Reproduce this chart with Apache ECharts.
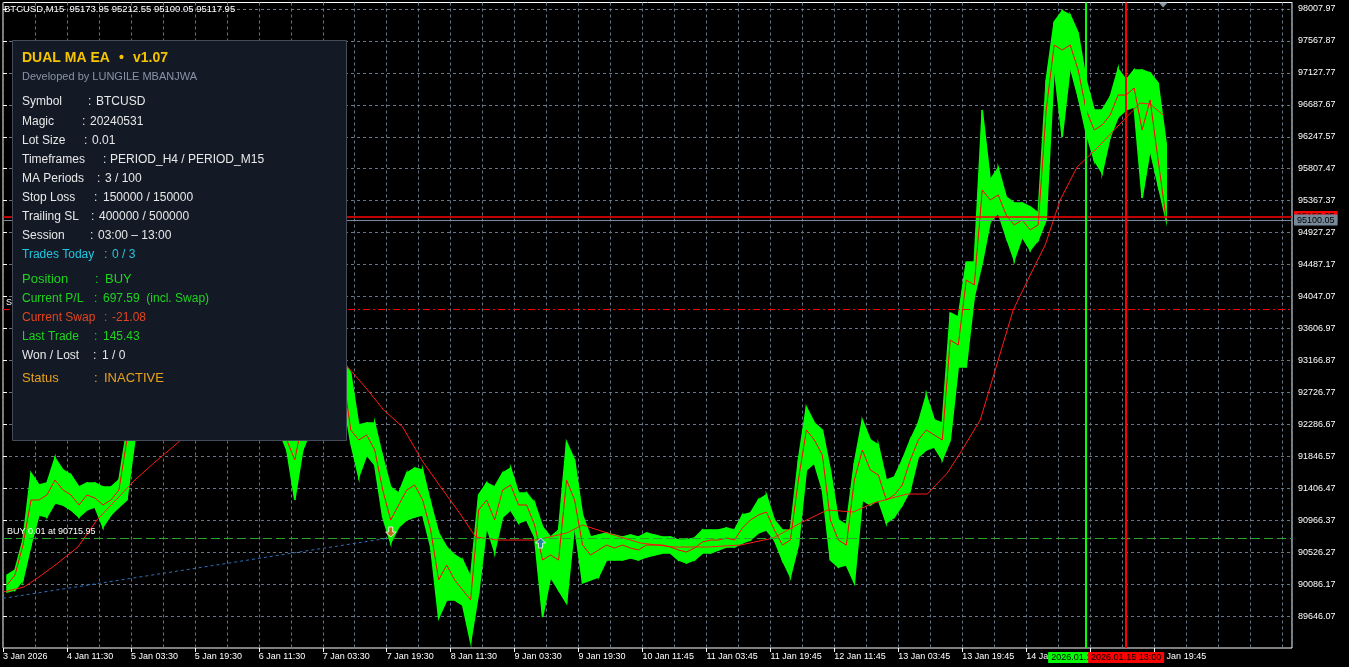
<!DOCTYPE html>
<html><head><meta charset="utf-8">
<script src="https://cdn.jsdelivr.net/npm/echarts@6/dist/echarts.min.js"></script>
<style>html,body{margin:0;padding:0;background:#000;}#c{width:1349px;height:667px;}</style>
</head><body><div id="c"></div>
<script>
// ---- data ----
const timeLabels = ['3 Jan 2026','4 Jan 11:30','5 Jan 03:30','5 Jan 19:30','6 Jan 11:30','7 Jan 03:30','7 Jan 19:30','8 Jan 11:30','9 Jan 03:30','9 Jan 19:30','10 Jan 11:45','11 Jan 03:45','11 Jan 19:45','12 Jan 11:45','13 Jan 03:45','13 Jan 19:45','14 Jan 11:45','15 Jan 03:45','15 Jan 19:45'];
const priceTickLabels = ['89646.07','90086.17','90526.27','90966.37','91406.47','91846.57','92286.67','92726.77','93166.87','93606.97','94047.07','94487.17','94927.27','95367.37','95807.47','96247.57','96687.67','97127.77','97567.87','98007.97'];
// 2-hour groups of M15 bars: highs / lows / closes
const highs = [90211,90280,90693,91616,91451,91479,91823,91658,91589,91424,
91479,91479,91424,91424,91520,92209,92622,92691,92829,92898,
93035,92966,93173,93242,93311,93380,93311,93448,93380,93311,
93242,93173,93104,92966,92829,92622,92209,92484,92760,92898,
93035,93104,93173,92994,92278,92305,92305,91837,91424,91341,
91616,91685,91658,91203,90790,90597,90487,90418,90184,91314,
91479,91424,91616,91685,91341,91341,91203,90873,90735,90831,
92043,91796,91038,90735,90762,90790,90762,90735,90762,90735,
90790,90762,90735,90735,90693,90693,90721,90831,90831,90831,
90859,90831,91038,91065,91245,91314,90969,90831,90831,91796,
92526,92305,92209,91658,90969,90900,91754,92347,92071,92002,
91520,91561,91796,92071,92305,92691,92347,92305,93820,93765,
94523,94523,96617,95652,95818,95418,95336,95336,95281,95198,
97030,97829,97980,97925,97677,97030,96617,96617,96796,97182,
97030,97168,97168,97126,96989,96162];
const lows = [89977,90005,90143,90624,91038,91010,91203,91176,91107,91010,
91107,91148,90873,91038,91148,91245,92071,92209,92278,92415,
92484,92484,92622,92691,92760,92829,92829,92898,92829,92760,
92691,92622,92553,92415,92209,91933,91245,91933,92209,92347,
92484,92622,92691,92030,91561,91864,91727,91010,90652,90873,
90969,91010,91038,90597,89619,89867,89867,89798,89288,89963,
90873,90528,91010,91107,90928,90969,90735,89633,90184,90005,
89826,90900,90101,90143,90184,90418,90418,90418,90446,90418,
90459,90487,90514,90514,90418,90377,90418,90514,90514,90556,
90597,90597,90652,90693,90790,90831,90693,90418,90184,90624,
91658,91754,91382,90418,90322,90349,90101,91245,91176,91245,
90928,91010,91176,91382,91837,91933,91975,91796,92071,93077,
93077,94041,94509,95074,95198,94867,94551,94867,94688,94826,
95102,97209,96245,97209,96796,96300,95928,95749,96245,96520,
96617,96658,95404,96066,95584,95102];
const closes = [90074,90211,90624,91245,91245,91314,91520,91382,91314,91176,
91314,91272,91176,91245,91382,92071,92415,92484,92622,92691,
92829,92760,92966,93035,93104,93173,93104,93242,93173,93035,
92966,92898,92760,92691,92484,92071,91796,92347,92622,92691,
92829,92966,93008,92209,92071,92140,91933,91382,90969,91176,
91382,91451,91245,90831,90143,90349,90143,90005,89867,91107,
91245,90969,91382,91451,91176,91176,90900,90418,90487,90418,
91520,91245,90624,90487,90556,90624,90583,90624,90583,90556,
90624,90624,90624,90597,90556,90528,90583,90666,90693,90693,
90721,90693,90859,90969,91038,91079,90831,90624,90693,91520,
92209,92071,91864,90969,90693,90624,91520,91933,91658,91589,
91245,91314,91451,91796,92071,92209,92140,92071,93448,93380,
94275,94206,95515,95377,95446,95170,95033,95102,94964,95033,
96617,97512,97443,97512,97168,96617,96341,96410,96548,96823,
96823,96920,96341,96755,95928,95118];
// MA(100) read at bar index positions
const maBars = [0,21,36,55,75,94,113,132,151,170,178,208,248,298,328,346,365,381,400,419,438,457,473,495,534,564,580,605,638,671,705,738,771,798,825,851,871,905,925,945,958,978,993,1011,1028,1043,1058,1075,1095,1115,1138,1148,1161];
const maValues = [89977,90046,90184,90377,90597,90969,91245,91520,91754,91975,92071,92347,92760,93104,93145,93063,92760,92484,92250,91796,91424,91065,90735,90693,90693,90790,90900,90790,90652,90597,90597,90624,90721,90928,91107,91079,91203,91327,91327,91616,91892,92347,93035,93862,94344,94757,95377,95832,96093,96383,96713,96699,96548];
const bidPrice = 95100.05, askPrice = 95150.05, buyPrice = 90715.95, slPrice = 93871;
const sessionStartBar = 1084, sessionEndBar = 1124;
const histOpenBar = 0, histOpenPrice = 89890, histCloseBar = 384, histClosePrice = 90716;
const closeMarkBar = 388, closeMarkPrice = 90804, openMarkBar = 538, openMarkPrice = 90652;
const shiftMarkBar = 1161;
const headerText = 'BTCUSD,M15  95173.95 95212.55 95100.05 95117.95';
const panelRows = [['Symbol','BTCUSD'],['Magic','20240531'],['Lot Size','0.01'],['Timeframes','PERIOD_H4 / PERIOD_M15'],['MA Periods','3 / 100'],['Stop Loss','150000 / 150000'],['Trailing SL','400000 / 500000'],['Session','03:00 – 13:00'],['Trades Today','0 / 3'],['Position','BUY'],['Current P/L','697.59  (incl. Swap)'],['Current Swap','-21.08'],['Last Trade','145.43'],['Won / Lost','1 / 0'],['Status','INACTIVE']];

// ---- layout / styles ----
const rowLayout = [[102,88,96],[121.5,82,90],[140.5,84,92],[160,103,110],[179,97,105],[197.5,94,103],[216.5,91,99],[235.5,90,98],[254.5,104,112],[279,95,105],[298.5,94,103],[317.5,104,112],[336.5,94,103],[355.5,93,102],[378,94,104]];
const WHITE='#e8e8e8', CYAN='#22c6e0', GREEN='#1fd31f', ORANGE='#e2451f', GOLD='#e9a21e';
const rowColors = [WHITE,WHITE,WHITE,WHITE,WHITE,WHITE,WHITE,WHITE,CYAN,GREEN,GREEN,ORANGE,GREEN,WHITE,GOLD];
const rowSizes = [12,12,12,12,12,12,12,12,12,13,12,12,12,12,13];
const FONT = '"Liberation Sans", Arial, sans-serif';
const SLOT = 8;
const GRID_COLOR = '#667687';
const BAR_GREEN = '#00ff00';

const slotX = i => i * SLOT + SLOT / 2;
// each band item joins one 2-hour group to the next
const bandData = highs.map((h, i) => {
  const j = Math.min(i + 1, highs.length - 1);
  return [slotX(i), lows[i], h, slotX(j), lows[j], highs[j]];
});
const closeData = closes.map((c, i) => [slotX(i), c]);
const maData = maBars.map((b, i) => [b, maValues[i]]);
const tickVals = priceTickLabels.map(Number);
const timeTickVals = timeLabels.map((t, i) => i * 64);

const chart = echarts.init(document.getElementById('c'));

const panel = [];
panel.push({type:'rect', z:100, shape:{x:12.5, y:40.5, width:334, height:400}, style:{fill:'#131a26', stroke:'#444c5c', lineWidth:1}});
panel.push({type:'text', z:101, x:22, y:58, style:{text:'DUAL MA EA', fill:'#f5c400', font:'bold 14px ' + FONT, verticalAlign:'middle'}});
panel.push({type:'text', z:101, x:119, y:58, style:{text:'•', fill:'#f5c400', font:'bold 14px ' + FONT, verticalAlign:'middle'}});
panel.push({type:'text', z:101, x:133, y:58, style:{text:'v1.07', fill:'#f5c400', font:'bold 14px ' + FONT, verticalAlign:'middle'}});
panel.push({type:'text', z:101, x:22, y:76.5, style:{text:'Developed by LUNGILE MBANJWA', fill:'#8a93a6', font:'11px ' + FONT, verticalAlign:'middle'}});
panelRows.forEach((r, i) => {
  const [y, cx, vx] = rowLayout[i];
  const f = rowSizes[i] + 'px ' + FONT;
  panel.push({type:'text', z:101, x:22, y:y, style:{text:r[0], fill:rowColors[i], font:f, verticalAlign:'middle'}});
  panel.push({type:'text', z:101, x:cx, y:y, style:{text:':', fill:rowColors[i], font:f, verticalAlign:'middle'}});
  panel.push({type:'text', z:101, x:vx, y:y, style:{text:r[1], fill:rowColors[i], font:f, verticalAlign:'middle'}});
});
panel.push({type:'text', z:50, x:4, y:9, style:{text:headerText, fill:'#ffffff', font:'9.5px ' + FONT, verticalAlign:'middle'}});
panel.push({type:'text', z:50, x:6, y:303, style:{text:'SL', fill:'#ffffff', font:'9px ' + FONT, verticalAlign:'middle'}});

const option = {
  backgroundColor: '#000000',
  animation: false,
  grid: {left: 2, right: 57, top: 2.5, bottom: 19, show: true, borderColor: '#ffffff', borderWidth: 1, backgroundColor: 'transparent'},
  xAxis: [{
    type: 'value', min: 0, max: 1290, interval: 64,
    axisLine: {show: false}, splitLine: {show: false},
    axisTick: {show: true, customValues: timeTickVals, length: 4, lineStyle: {color: '#ffffff'}},
    axisLabel: {show: true, customValues: timeTickVals, formatter: v => timeLabels[Math.round(v / 64)] || '', align: 'left', color: '#ffffff', fontSize: 9, fontFamily: FONT, margin: 4}
  }, {
    type: 'value', min: 0, max: 1290, interval: 32, position: 'bottom',
    axisLine: {show: false}, axisTick: {show: false}, axisLabel: {show: false},
    splitLine: {show: true, lineStyle: {color: GRID_COLOR, type: [3, 3], width: 1}}
  }],
  yAxis: {
    type: 'value', position: 'right', min: 89205.97, max: 98097.5, interval: 440.1,
    axisLine: {show: false},
    axisTick: {show: true, customValues: tickVals, length: 4, lineStyle: {color: '#ffffff'}},
    axisLabel: {show: true, customValues: tickVals, formatter: v => Number(v).toFixed(2), color: '#ffffff', fontSize: 9, fontFamily: FONT, margin: 6},
    splitLine: {show: true, lineStyle: {color: GRID_COLOR, type: [3, 3], width: 1}}
  },
  series: [{
    type: 'custom', name: 'bars', z: 2, clip: true,
    data: bandData, encode: {x: [0, 3], y: [1, 2, 4, 5]},
    renderItem: (params, api) => {
      const a = api.coord([api.value(0), api.value(2)]);
      const b = api.coord([api.value(3), api.value(5)]);
      const c = api.coord([api.value(3), api.value(4)]);
      const d = api.coord([api.value(0), api.value(1)]);
      return {type: 'polygon', shape: {points: [a, b, c, d]}, style: {fill: BAR_GREEN, stroke: BAR_GREEN, lineWidth: 1.5}};
    }
  }, {
    type: 'line', name: 'MA100', z: 3, data: maData, showSymbol: false, symbol: 'none',
    lineStyle: {color: '#ff1a1a', width: 1}
  }, {
    type: 'line', name: 'fast', z: 4, data: closeData, showSymbol: false, symbol: 'none', clip: false,
    lineStyle: {color: '#ff0000', width: 1},
    markLine: {
      symbol: 'none', silent: true, animation: false,
      label: {fontFamily: FONT, fontSize: 9},
      data: [
        {yAxis: slPrice, lineStyle: {color: '#ff0000', type: [7, 3, 2, 3], width: 1}, label: {show: false}},
        {yAxis: buyPrice, lineStyle: {color: '#2aa52a', type: [9, 4], width: 1}, label: {show: true, position: 'insideStartTop', distance: [4, 2], formatter: 'BUY 0.01 at 90715.95', color: '#ffffff', fontSize: 9, fontFamily: FONT}},
        [{coord: [histOpenBar, histOpenPrice], lineStyle: {color: '#2a70bb', type: [3, 3], width: 1}, label: {show: false}}, {coord: [histCloseBar, histClosePrice]}],
        {yAxis: askPrice, lineStyle: {color: '#ff0000', type: 'solid', width: 1.5}, label: {show: true, position: 'end', distance: 2, formatter: '95150.05', backgroundColor: '#ff0000', color: '#000000', padding: [1, 3, 1, 3], fontSize: 9, fontFamily: FONT}},
        {yAxis: bidPrice, lineStyle: {color: '#778899', type: 'solid', width: 1}, label: {show: true, position: 'end', distance: 2, formatter: '95100.05', backgroundColor: '#778899', color: '#000000', padding: [1, 3, 1, 3], fontSize: 9, fontFamily: FONT}},
        {xAxis: sessionStartBar, lineStyle: {color: '#00ff00', type: 'solid', width: 2}, label: {show: true, position: 'start', distance: 4, formatter: '2026.01.15 03:00', backgroundColor: '#00ff00', color: '#000000', padding: [1, 3, 1, 3], fontSize: 9, fontFamily: FONT}},
        {xAxis: sessionEndBar, lineStyle: {color: '#ff0000', type: 'solid', width: 2}, label: {show: true, position: 'start', distance: 4, formatter: '2026.01.15 13:00', backgroundColor: '#ff0000', color: '#000000', padding: [1, 3, 1, 3], fontSize: 9, fontFamily: FONT}}
      ]
    }
  }, {
    type: 'scatter', name: 'close', z: 6, data: [[closeMarkBar, closeMarkPrice]],
    symbol: 'path://M3,0 L7,0 L7,5 L10,5 L5,10 L0,5 L3,5 Z', symbolSize: [10, 10],
    itemStyle: {color: '#e8461e', borderColor: '#ffffff', borderWidth: 1}
  }, {
    type: 'scatter', name: 'open', z: 6, data: [[openMarkBar, openMarkPrice]],
    symbol: 'path://M5,0 L10,5 L7,5 L7,10 L3,10 L3,5 L0,5 Z', symbolSize: [10, 10],
    itemStyle: {color: '#1d6fc4', borderColor: '#ffffff', borderWidth: 1}
  }],
  graphic: panel
};
chart.setOption(option);

// shift marker triangle at the top border, placed through the x scale
const sx = chart.convertToPixel({xAxisIndex: 0}, shiftMarkBar);
const topY = chart.convertToPixel({yAxisIndex: 0}, 98097.5);
chart.setOption({graphic: panel.concat([{type: 'polygon', z: 60, shape: {points: [[sx - 4.5, topY], [sx + 4.5, topY], [sx, topY + 5]]}, style: {fill: '#8c99a6'}}])});
</script>
</body></html>
